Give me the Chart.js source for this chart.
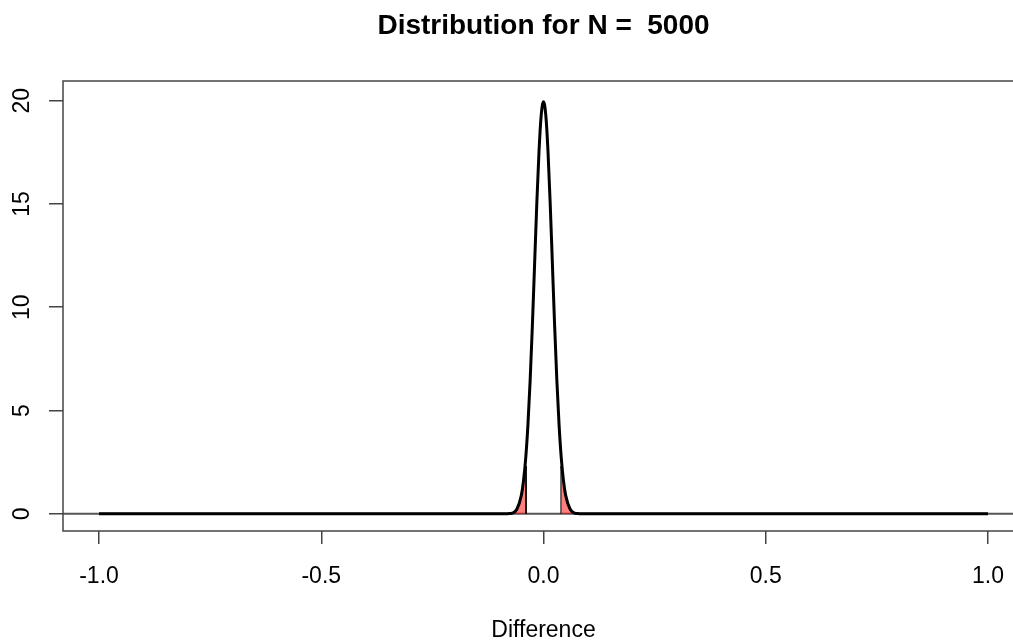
<!DOCTYPE html>
<html>
<head>
<meta charset="utf-8">
<script src="https://cdn.jsdelivr.net/npm/chart.js@4.4.0/dist/chart.umd.min.js"></script>
<style>
  html, body { margin: 0; padding: 0; background: #ffffff; overflow: hidden; }
  #wrap { width: 1026px; height: 641px; }
</style>
</head>
<body>
<div id="wrap"><canvas id="my_chart" width="1026" height="641"></canvas></div>
<script>
// density curve
const diffX = [-1.0, -0.5, -0.12, -0.1, -0.08, -0.07, -0.06, -0.05, -0.045, -0.04, -0.035, -0.03, -0.025, -0.02, -0.015, -0.01, -0.0075, -0.005, -0.0025,
  0, 0.0025, 0.005, 0.0075, 0.01, 0.015, 0.02, 0.025, 0.03, 0.035, 0.04, 0.045, 0.05, 0.06, 0.07, 0.08, 0.1, 0.12, 0.5, 1.0];
const density = [0, 0, 0, 0, 0.01, 0.04, 0.22, 0.88, 1.59, 2.70, 4.32, 6.48, 9.13, 12.10, 15.06, 17.60, 18.60, 19.33, 19.79,
  19.95, 19.79, 19.33, 18.60, 17.60, 15.06, 12.10, 9.13, 6.48, 4.32, 2.70, 1.59, 0.88, 0.22, 0.04, 0.01, 0, 0, 0, 0];

// shaded tails (red polygons)
const leftTailX = [-0.08, -0.07, -0.06, -0.05, -0.045, -0.0392, -0.0392];
const leftTailY = [0, 0.04, 0.22, 0.88, 1.59, 2.3, 0];
const rightTailX = [0.0392, 0.0392, 0.045, 0.05, 0.06, 0.07, 0.08];
const rightTailY = [0, 2.3, 1.59, 0.88, 0.22, 0.04, 0];

// horizontal reference line at 0
const hlineX = [-1.081, 1.081];
const hlineY = [0, 0];

const xTicks = [-1.0, -0.5, 0.0, 0.5, 1.0];
const yTicks = [0, 5, 10, 15, 20];

function toPoints(xs, ys) {
    let pts = [];
    for (let i = 0; i < xs.length; i++) {
        pts.push({x: xs[i], y: ys[i]});
    }
    return pts;
}

// R style box around the plot area
const boxPlugin = {
    id: 'box',
    afterDraw(chart) {
        const a = chart.chartArea;
        const c = chart.ctx;
        c.save();
        c.strokeStyle = '#444444';
        c.lineWidth = 1.5;
        c.strokeRect(a.left, a.top, a.right - a.left, a.bottom - a.top);
        c.restore();
    }
};

const ctx = document.getElementById('my_chart');

new Chart(ctx, {
    type: 'scatter',
    data: {
        datasets: [
            {
                label: 'density',
                data: toPoints(diffX, density),
                showLine: true,
                borderColor: '#000000',
                borderWidth: 3,
                pointRadius: 0,
                cubicInterpolationMode: 'monotone',
                fill: false,
                order: 1
            },
            {
                label: 'left tail',
                data: toPoints(leftTailX, leftTailY),
                showLine: true,
                borderColor: '#000000',
                borderWidth: 1,
                backgroundColor: 'rgba(255, 0, 0, 0.5)',
                pointRadius: 0,
                tension: 0,
                fill: 'origin',
                order: 2
            },
            {
                label: 'right tail',
                data: toPoints(rightTailX, rightTailY),
                showLine: true,
                borderColor: '#000000',
                borderWidth: 1,
                backgroundColor: 'rgba(255, 0, 0, 0.5)',
                pointRadius: 0,
                tension: 0,
                fill: 'origin',
                order: 2
            },
            {
                label: 'zero',
                data: toPoints(hlineX, hlineY),
                showLine: true,
                borderColor: '#555555',
                borderWidth: 2,
                pointRadius: 0,
                fill: false,
                order: 3
            }
        ]
    },
    options: {
        responsive: false,
        animation: false,
        layout: { padding: { left: 0, right: 2, top: 0, bottom: 0 } },
        plugins: {
            legend: { display: false },
            tooltip: { enabled: false },
            title: {
                display: true,
                text: 'Distribution for N =  5000',
                fullSize: false,
                color: '#000000',
                font: { family: 'Liberation Sans', size: 28, weight: 'bold', lineHeight: 1.2 },
                padding: { top: 9, bottom: 38.4 }
            }
        },
        scales: {
            x: {
                type: 'linear',
                min: -1.081,
                max: 1.081,
                afterBuildTicks: (scale) => { scale.ticks = xTicks.map(v => ({value: v})); },
                afterFit: (scale) => { scale.height = 110; },
                ticks: {
                    autoSkip: false,
                    maxRotation: 0,
                    minRotation: 0,
                    padding: 19,
                    color: '#000000',
                    font: { family: 'Liberation Sans', size: 23 },
                    callback: (v) => Number(v).toFixed(1)
                },
                grid: { drawOnChartArea: false, drawTicks: true, tickLength: 13, color: '#444444', lineWidth: 1.5 },
                border: { display: false },
                title: {
                    display: true,
                    text: 'Difference',
                    color: '#000000',
                    font: { family: 'Liberation Sans', size: 23, lineHeight: 0.9 },
                    padding: { top: 0, bottom: 0 }
                }
            },
            y: {
                type: 'linear',
                min: -0.83,
                max: 20.95,
                afterBuildTicks: (scale) => { scale.ticks = yTicks.map(v => ({value: v})); },
                afterFit: (scale) => { scale.width = 63; },
                ticks: {
                    autoSkip: false,
                    minRotation: 90,
                    maxRotation: 90,
                    crossAlign: 'center',
                    padding: 14,
                    color: '#000000',
                    font: { family: 'Liberation Sans', size: 23 },
                    callback: (v) => String(v)
                },
                grid: { drawOnChartArea: false, drawTicks: true, tickLength: 14, color: '#444444', lineWidth: 1.5 },
                border: { display: false }
            }
        }
    },
    plugins: [boxPlugin]
});
</script>
</body>
</html>
